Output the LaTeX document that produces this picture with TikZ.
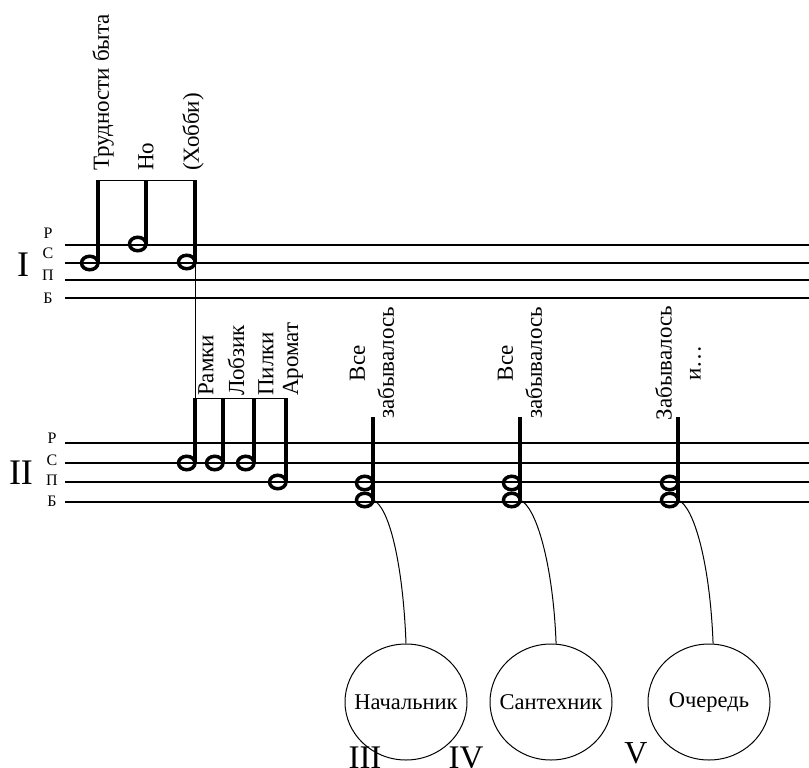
\documentclass[tikz,border=0pt]{standalone}
\usepackage{fontspec}
\setmainfont{Liberation Serif}
\usetikzlibrary{shapes.geometric}

\begin{document}
\begin{tikzpicture}[x=1pt,y=-1pt,
        staffline/.style={line width=1.3pt},
        notehead/.style={ellipse,draw,line width=3.5pt,minimum width=16.5pt,minimum height=13.5pt,inner sep=0pt,outer sep=0pt},
        notestem/.style={line width=3.5pt},
        beam/.style={line width=1pt},
        vlabel/.style={rotate=90,anchor=west,inner sep=0pt,font=\fontsize{23}{29}\selectfont,align=center},
        rowlabel/.style={font=\fontsize{16}{17}\selectfont,inner sep=0pt},
        numeral/.style={font=\fontsize{36}{38}\selectfont,inner sep=0pt},
        topic/.style={ellipse,draw,line width=1pt,minimum width=122pt,minimum height=116pt,inner sep=0pt,
          label={[font=\fontsize{22.5}{24}\selectfont]center:#1}}
        ]
    \useasboundingbox (0,0) rectangle (809,768);

        % staves
        \foreach \y in {245,263,280,298} \draw[staffline] (65,\y) -- (809,\y);
        \foreach \y in {443,463,482,502} \draw[staffline] (65,\y) -- (809,\y);
        \foreach \t/\y in {Р/233,С/253,П/275,Б/298} \node[rowlabel] at (48,\y) {\t};
        \foreach \t/\y in {Р/438,С/460,П/480,Б/501} \node[rowlabel] at (52,\y) {\t};
        \node (numI) at (23,265) [numeral] {I};
        \node (numII) at (21,473) [numeral] {II};

        % group I
        \node (hA) at (89.75,263) [notehead] {};
        \node (hB) at (137.75,244) [notehead] {};
        \node (hC) at (186.75,262) [notehead] {};
        \coordinate (tA) at (98,180);
        \coordinate (tB) at (146,180);
        \coordinate (tC) at (195,180);
        \draw[notestem] (hA.east) -- (tA);
        \draw[notestem] (hB.east) -- (tB);
        \draw[notestem] (hC.east) -- (tC);
        \draw[beam] (tA) -- (tC);
        \node (lA) at (103,171) [vlabel] {Трудности быта};
        \node (lB) at (146,171) [vlabel] {Но};
        \node (lC) at (193,171) [vlabel] {(Хобби)};

        % group II
        \node (hD) at (186.75,463) [notehead] {};
        \node (hE) at (214.75,463) [notehead] {};
        \node (hF) at (245.75,463) [notehead] {};
        \node (hG) at (277.75,482) [notehead] {};
        \coordinate (tD) at (195,398);
        \coordinate (tE) at (223,398);
        \coordinate (tF) at (254,398);
        \coordinate (tG) at (286,398);
        \draw[notestem] (hD.east) -- (tD);
        \draw[notestem] (hE.east) -- (tE);
        \draw[notestem] (hF.east) -- (tF);
        \draw[notestem] (hG.east) -- (tG);
        \draw[beam] (tD) -- (tG);
        \draw[beam] (hC.east) -- (tD);
        \node (lD) at (206,396) [vlabel] {Рамки};
        \node (lE) at (236,396) [vlabel] {Лобзик};
        \node (lF) at (266,396) [vlabel] {Пилки};
        \node (lG) at (293,396) [vlabel] {Аромат};

        % chords
        \foreach \n/\x in {1/373,2/520,3/678} {
          \node (c\n a) at (\x-8.25,483) [notehead] {};
          \node (c\n b) at (\x-8.25,500) [notehead] {};
          \coordinate (c\n t) at (\x,417);
          \draw[notestem] (c\n b.east) -- (c\n t);
        }
        \node (lH) at (372,363) [vlabel,anchor=center] {Все\\забывалось};
        \node (lI) at (520,363) [vlabel,anchor=center] {Все\\забывалось};
        \node (lJ) at (678,363) [vlabel,anchor=center] {Забывалось\\и…};

        % topics
        \node (nA) at (406,702) [topic=Начальник] {};
        \node (nB) at (551,702) [topic=Сантехник] {};
        \node (nC) at (709,702) [topic=Очередь] {};
        \draw[beam] (c1b.east) .. controls +(16,6) and +(-3,-80) .. (nA.north);
        \draw[beam] (c2b.east) .. controls +(16,6) and +(-3,-80) .. (nB.85);
        \draw[beam] (c3b.east) .. controls +(16,6) and +(-3,-80) .. (nC.86);
        \node (numIII) at (365,768) [numeral,anchor=base,font=\fontsize{33}{36}\selectfont] {III};
        \node (numIV) at (466,768) [numeral,anchor=base,font=\fontsize{33}{36}\selectfont] {IV};
        \node (numV) at (636,763) [numeral,anchor=base,font=\fontsize{32}{36}\selectfont] {V};
      \end{tikzpicture}
\end{document}
